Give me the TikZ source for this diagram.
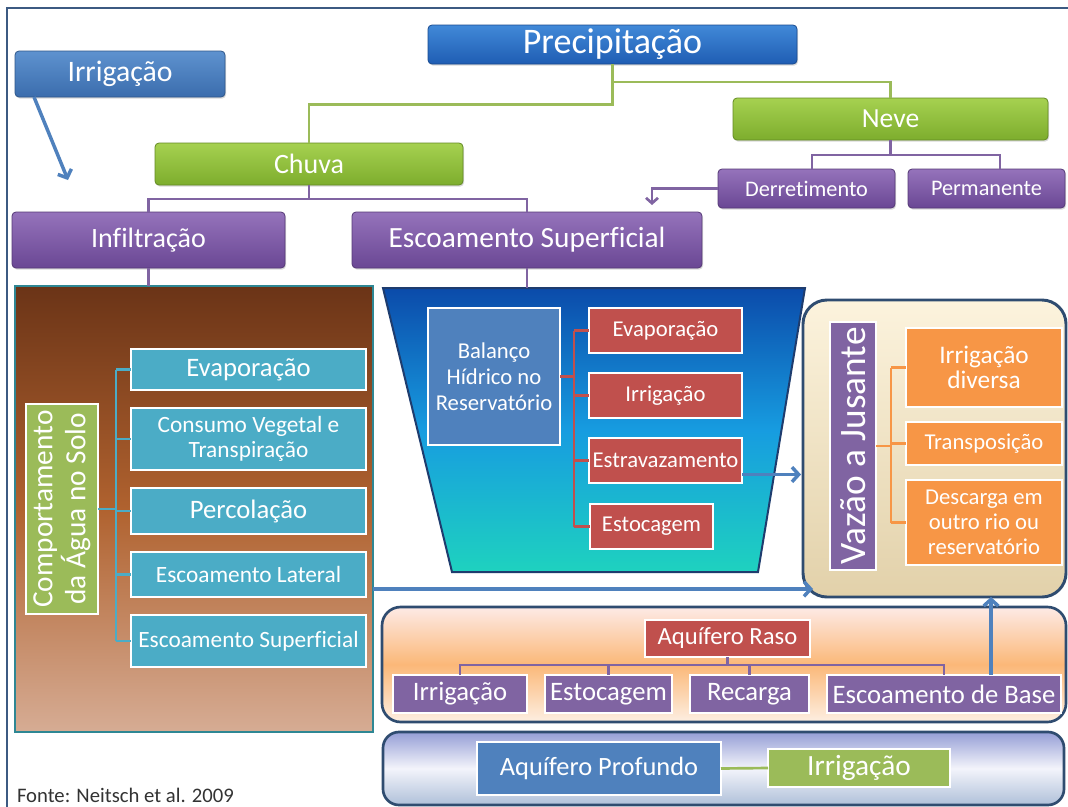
\documentclass[tikz,border=0pt]{standalone}
\usepackage{fontspec}
\setmainfont{Carlito}[Ligatures={NoCommon}]
\usetikzlibrary{arrows.meta,shadows,calc}
\newcommand\fsz[2]{\fontsize{#1pt}{#2pt}\selectfont}
\definecolor{precT}{HTML}{4189D8}
\definecolor{precB}{HTML}{1F5DB3}
\definecolor{irrT}{HTML}{5E92CF}
\definecolor{irrB}{HTML}{3B6DAD}
\definecolor{grT}{HTML}{A6D150}
\definecolor{grB}{HTML}{7DAD2D}
\definecolor{puT}{HTML}{9573BB}
\definecolor{puB}{HTML}{6A4794}
\definecolor{cyanbox}{HTML}{4BACC6}
\definecolor{redbox}{HTML}{C0504D}
\definecolor{orbox}{HTML}{F79646}
\definecolor{balbox}{HTML}{4F81BD}
\definecolor{vpur}{HTML}{8064A2}
\definecolor{cgreen}{HTML}{9BBB59}
\definecolor{arrowblue}{HTML}{4F81BD}
\definecolor{frameblue}{HTML}{3C5A82}
\definecolor{tealb}{HTML}{2E8794}
\definecolor{brT}{HTML}{6B3417}
\definecolor{brM}{HTML}{B0622F}
\definecolor{brB}{HTML}{D6AC94}
\definecolor{trT}{HTML}{0B4BAA}
\definecolor{trM}{HTML}{179CE0}
\definecolor{trB}{HTML}{1ED2BF}
\definecolor{navy}{HTML}{1E3C6E}
\definecolor{vzT}{HTML}{FCF3DD}
\definecolor{vzB}{HTML}{E2D1AA}
\definecolor{rsT}{HTML}{FDEAE6}
\definecolor{rsM}{HTML}{FBB878}
\definecolor{rsB}{HTML}{FDEFE2}
\definecolor{pfT}{HTML}{959ED6}
\definecolor{pfM}{HTML}{F3F4FB}
\definecolor{pfB}{HTML}{AFC0D9}
\definecolor{bandedge}{HTML}{2F4C70}
\begin{document}
\begin{tikzpicture}[x=0.75pt,y=-0.75pt,
 base/.style={inner sep=0pt, outer sep=0pt, align=center, text=white},
 wh/.style 2 args={minimum width=#1*0.75pt, minimum height=#2*0.75pt},
 topn/.style 2 args={base, rounded corners=3pt, top color=#1, bottom color=#2, draw=#2!80!black, line width=0.6pt, drop shadow={opacity=0.3, shadow xshift=0.8pt, shadow yshift=-1.2pt}},
 flat/.style={base, fill=#1, draw=white, line width=1.5pt},
 gline/.style={draw=cgreen, line width=2pt},
 pline/.style={draw=vpur, line width=2pt},
 tline/.style={draw=cyanbox, line width=2pt},
 rline/.style={draw=redbox, line width=2pt},
 oline/.style={draw=orbox, line width=2pt},
 barrow/.style={draw=arrowblue, line width=2.6pt, -{Straight Barb[length=5pt,width=11pt]}},
]
\useasboundingbox (0,0) rectangle (1068,807);
\fill[white] (0,0) rectangle (1068,807);
\draw[draw=frameblue, line width=1.6pt] (7,807) -- (7,8) -- (1068,8);

% containers
\node[base, draw=tealb, line width=2.2pt, top color=brT, bottom color=brB, middle color=brM, wh={358}{446}] (brown) at (194,509) {};
\node[base, draw=bandedge, line width=2.2pt, rounded corners=18pt, top color=vzT, bottom color=vzB, wh={263}{297}] (vazbox) at (934.5,448.5) {};
\node[base, draw=bandedge, line width=2pt, rounded corners=14pt, top color=rsT, bottom color=rsB, middle color=rsM, wh={684}{115}] (raso) at (724,664.5) {};
\node[base, draw=bandedge, line width=2pt, rounded corners=12pt, top color=pfT, bottom color=pfB, middle color=pfM, wh={681}{73}] (prof) at (723.5,768.5) {};
\draw[draw=navy, line width=1.5pt, top color=trT, bottom color=trB, middle color=trM] (383,288) -- (805,288) -- (758,572) -- (452,572) -- cycle;
\coordinate (traptop) at (532,288);

% top nodes
\node[topn={irrT}{irrB}, wh={210}{46}, font=\fsz{22.3}{24}] (irr) at (120,74) {Irrigação};
\node[topn={precT}{precB}, wh={369}{39}, font=\fsz{27}{29}] (prec) at (612.5,44.5) {Precipitação};
\node[topn={grT}{grB}, wh={308}{42}, font=\fsz{21}{23}] (chuva) at (309,164) {Chuva};
\node[topn={grT}{grB}, wh={315}{42}, font=\fsz{20.7}{23}] (neve) at (890.5,119) {Neve};
\node[topn={puT}{puB}, wh={177}{39}, font=\fsz{16.7}{19}] (derr) at (806.5,188.5) {Derretimento};
\node[topn={puT}{puB}, wh={157}{39}, font=\fsz{16.7}{19}] (perm) at (986.5,188.5) {Permanente};
\node[topn={puT}{puB}, wh={273}{56}, font=\fsz{21}{23}] (infil) at (148.5,240) {Infiltração};
\node[topn={puT}{puB}, wh={350}{56}, font=\fsz{22}{24}] (escsup) at (527,240) {Escoamento Superficial};

% soil
\node[flat=cgreen, rotate=90, wh={210}{72}, font=\fsz{22}{24.75}] (comp) at (62,509) {Comportamento\\da Água no Solo};
\node[flat=cyanbox, wh={235}{41}, font=\fsz{20}{22}] (ev) at (248.5,369.5) {Evaporação};
\node[flat=cyanbox, wh={235}{62}, font=\fsz{17.5}{18.75}] (cons) at (248.5,439) {Consumo Vegetal e\\Transpiração};
\node[flat=cyanbox, wh={235}{46}, font=\fsz{20}{22}] (perc) at (248.5,511) {Percolação};
\node[flat=cyanbox, wh={235}{45}, font=\fsz{17.5}{19}] (escl) at (248.5,574.5) {Escoamento Lateral};
\node[flat=cyanbox, wh={235}{52}, font=\fsz{17.5}{19}] (escs) at (248.5,641) {Escoamento Superficial};

% reservoir
\node[flat=balbox, wh={132}{137}, font=\fsz{17}{19.3}] (bal) at (494,376.5) {Balanço\\Hídrico no\\Reservatório};
\node[flat=redbox, wh={153}{45}, font=\fsz{17}{19}] (rev) at (665.5,330.5) {Evaporação};
\node[flat=redbox, wh={153}{45}, font=\fsz{17}{19}] (rirr) at (665.5,395.5) {Irrigação};
\node[flat=redbox, wh={153}{45}, font=\fsz{17}{19}] (rest) at (665.5,460.5) {Estravazamento};
\node[flat=redbox, wh={123}{45}, font=\fsz{17}{19}] (rsto) at (651.5,526.5) {Estocagem};

% downstream
\node[flat=vpur, rotate=90, wh={248}{46}, font=\fsz{28}{30}] (vaz) at (853,446) {Vazão a Jusante};
\node[flat=orbox, wh={156}{79}, font=\fsz{19}{19}] (oirr) at (984,367.5) {Irrigação\\diversa};
\node[flat=orbox, wh={156}{43}, font=\fsz{17}{19}] (otr) at (984,443.5) {Transposição};
\node[flat=orbox, wh={156}{85}, font=\fsz{17}{18.75}] (odes) at (984,522.5) {Descarga em\\outro rio ou\\reservatório};

% aquifers
\node[flat=redbox, wh={165}{37}, font=\fsz{18.5}{20}] (araso) at (727.5,638.5) {Aquífero Raso};
\node[flat=vpur, wh={134}{38}, font=\fsz{20}{22}] (airr) at (460,694) {Irrigação};
\node[flat=vpur, wh={127}{38}, font=\fsz{20}{22}] (asto) at (608.5,694) {Estocagem};
\node[flat=vpur, wh={119}{38}, font=\fsz{20}{22}] (arec) at (749.5,694) {Recarga};
\node[flat=vpur, wh={234}{38}, font=\fsz{20}{22}] (aesc) at (944,694) {Escoamento de Base};
\node[flat=balbox, wh={244}{53}, font=\fsz{19.8}{22}] (aprof) at (599,768.5) {Aquífero Profundo};
\node[flat=cgreen, wh={182}{38}, font=\fsz{22}{24}] (pirr) at (859,768) {Irrigação};

\node[base, text=black!80, anchor=base west, font=\fsz{15.5}{17}] (fonte) at (17,802) {Fonte: Neitsch et al. 2009};

% connectors
\draw[gline] (prec.south) -- ++(0,40.5) -| (chuva.north);
\coordinate (pj) at (612.5,82);
\draw[gline] (pj) -| (neve.north);
\draw[pline] (chuva.south) -- ++(0,14) -| (infil.north);
\draw[pline] (chuva.south) ++(0,14) -| (escsup.north);
\coordinate (dj1) at (812,0);
\coordinate (dj2) at (1000,0);
\draw[pline] (neve.south) -- ++(0,15) -| (derr.north -| dj1);
\draw[pline] (neve.south) ++(0,15) -| (perm.north -| dj2);
\coordinate (dtip) at (652,205);
\draw[pline, -{Straight Barb[length=4pt,width=9pt]}] (derr.west) -| (dtip);
\draw[pline] (infil.south) -- (infil.south |- brown.north);
\draw[pline] (escsup.south) -- (escsup.south |- traptop);

\coordinate (tx) at (116,0);
\draw[tline] (comp.south) -- (comp.south -| tx);
\draw[tline] (ev.west -| tx) -- (escs.west -| tx);
\foreach \n in {ev,cons,perc,escl,escs} \draw[tline] (\n.west -| tx) -- (\n.west);

\coordinate (rx) at (574,0);
\draw[rline] (bal.east) -- (bal.east -| rx);
\draw[rline] (rev.west -| rx) -- (rsto.west -| rx);
\foreach \n in {rev,rirr,rest,rsto} \draw[rline] (\n.west -| rx) -- (\n.west);

\coordinate (ox) at (891,0);
\draw[oline] (vaz.south) -- (vaz.south -| ox);
\draw[oline] (oirr.west -| ox) -- (odes.west -| ox);
\foreach \n in {oirr,otr,odes} \draw[oline] (\n.west -| ox) -- (\n.west);

\foreach \n in {airr,asto,arec,aesc} \draw[pline] (araso.south) -- ++(0,8) -| (\n.north);
\draw[gline] (aprof.east) -- (pirr.west);

\coordinate (itip) at (68,180);
\draw[barrow] ($(irr.south west)+(19,0)$) -- (itip);
\draw[barrow] ($(rest.east)+(0,14)$) -- ($(rest.east -| vazbox.west)+(-2,14)$);
\draw[barrow] ($(brown.east)+(0,80)$) -- ($(brown.east -| vazbox.west)+(10,80)$);
\coordinate (ux) at (991,0);
\draw[barrow] (aesc.north -| ux) -- (vazbox.south -| ux);
\end{tikzpicture}
\end{document}
